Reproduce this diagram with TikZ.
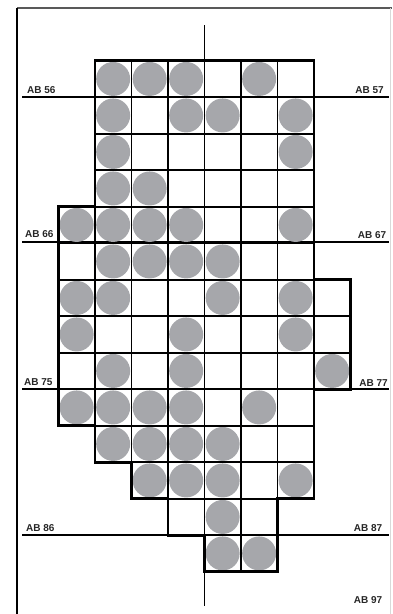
\documentclass[tikz,border=0pt]{standalone}
\usepackage{fontspec}
\setsansfont{Liberation Sans}
\definecolor{dotgray}{RGB}{166,167,171}
\tikzset{
  cellline/.style={line width=1.6pt},
  rimline/.style={line width=2.6pt, line join=miter},
  ablabel/.style={font=\sffamily\bfseries\fontsize{10}{12}\selectfont, inner sep=0pt, text=black!85},
}

\begin{document}
\begin{tikzpicture}[x=1pt,y=-1pt]
  \useasboundingbox (0,0) rectangle (392,614);
  % frame
  \draw[gray!70!black, line width=1.2pt] (17,8) -- (392,8);
  \draw[line width=1.2pt] (17,8) -- (17,614);
  \draw[gray!30, line width=0.8pt] (390.5,8) -- (390.5,614);
  % section lines
  \foreach \yy in {97,241.7,389,535} {
    \draw[cellline] (22,\yy) -- (389,\yy);
  }
  \draw[cellline] (204.5,25) -- (204.5,606);
  % grid of cells
  \begin{scope}[xshift=58.4pt, yshift=-60.7pt, x=36.5pt, y=-36.5pt]
    \foreach \r/\a/\b/\dotlist in {0/1/6/{1,2,3,5}, 1/1/6/{1,3,4,6},
        2/1/6/{1,6}, 3/1/6/{1,2}, 4/0/6/{0,1,2,3,6}, 5/0/6/{1,2,3,4},
        6/0/7/{0,1,4,6}, 7/0/7/{0,3,6}, 8/0/7/{1,3,7}, 9/0/6/{0,1,2,3,5},
        10/1/6/{1,2,3,4}, 11/2/6/{2,3,4,6}, 12/3/5/{4}, 13/4/5/{4,5}} {
      \foreach \c in \dotlist {
        \fill[dotgray] (\c+0.5,\r+0.5) circle[radius=17pt];
      }
      \foreach \c in {\a,...,\b} {
        \draw[cellline] (\c,\r) rectangle ++(1,1);
      }
    }
    \draw[rimline] (1,0) -- (7,0) -- (7,6) -- (8,6) -- (8,9) -- (7,9) -- (7,12)
      -- (6,12) -- (6,14) -- (4,14) -- (4,13) -- (3,13) -- (3,12) -- (2,12)
      -- (2,11) -- (1,11) -- (1,10) -- (0,10) -- (0,4) -- (1,4) -- cycle;
  \end{scope}
  % labels
  \foreach \name/\xx/\yy in {56/27/94, 66/25/238, 75/24/386, 86/26/531.5} {
    \node[ablabel, anchor=south west] (ab\name) at (\xx,\yy) {AB \name};
  }
  \foreach \name/\xx/\yy in {57/384/94, 67/386.5/238.5, 77/388/387,
      87/382.5/532, 97/382.5/603.5} {
    \node[ablabel, anchor=south east] (ab\name) at (\xx,\yy) {AB \name};
  }
\end{tikzpicture}
\end{document}
